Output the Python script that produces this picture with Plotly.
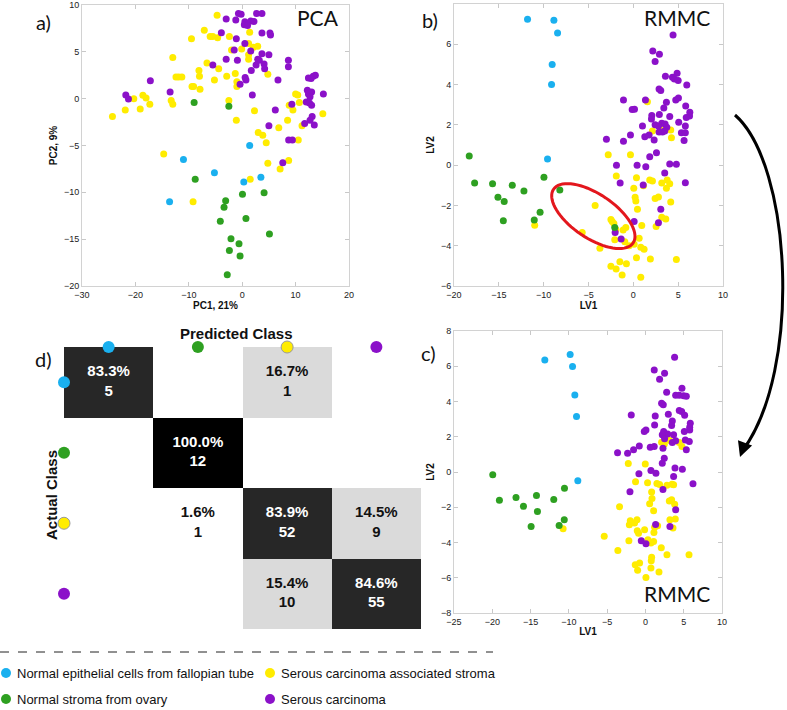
"""Ovarian tissue spectra: PCA vs RMMC score plots and the confusion matrix."""
import numpy as np
import plotly.graph_objects as go

W, H = 787, 710

BLUE = "#1ab0ef"
GREEN = "#2ea021"
YELLOW = "#ffec00"
PURPLE = "#8b11c9"

CLASSES = [
    "Normal epithelial cells from fallopian tube",
    "Normal stroma from ovary",
    "Serous carcinoma associated stroma",
    "Serous carcinoma",
]
COLORS = [BLUE, GREEN, YELLOW, PURPLE]

# ---- a) PCA scores (PC1, PC2) ----
pca_blue = [(1.4, -5.0), (-11.0, -6.5), (-5.2, -7.9), (0.3, -8.9), (3.5, -8.4), (-13.6, -11.0)]
pca_green = [(-9.0, -0.4), (-2.5, -0.8), (-8.8, -8.6), (0.05, -10.2), (4.1, -10.05), (-3.1, -10.9),
             (-3.4, -11.6), (-4.1, -13.1), (0.7, -12.8), (-2.1, -14.96), (5.1, -14.45), (-2.4, -16.2),
             (-0.6, -15.5), (-0.4, -16.8), (-2.8, -18.8)]
pca_yellow = [(-4.7, 8.9), (-7.1, 7.3), (-6.0, 6.65), (-5.5, 6.65), (-4.6, 6.5), (-9.5, 6.4), (-2.4, 6.65),
              (1.4, 7.1), (1.2, 5.9), (-2.0, 5.2), (-0.1, 5.3), (2.9, 5.6), (2.1, 5.5), (-13.0, 4.4),
              (-6.6, 3.8), (-4.4, 3.2), (-8.1, 3.0), (-8.0, 2.4), (-12.4, 2.3), (-11.9, 2.3), (-11.3, 2.3),
              (-5.2, 2.0), (-2.9, 2.4), (-1.3, 2.7), (1.2, 4.7), (1.2, 4.2), (-9.4, 1.3), (-9.1, 1.3),
              (-7.9, 1.0), (-1.0, 1.8), (-1.0, 1.3), (4.8, 2.6), (-20.3, 0.0), (-18.6, 0.37), (-18.0, 0.07),
              (-17.3, -0.6), (-19.1, -1.1), (-21.9, -1.2), (-24.3, -1.9), (-13.3, -0.2), (-13.0, -0.6),
              (-2.5, -0.2), (-1.1, -2.3), (2.3, -1.3), (3.0, -3.6), (3.85, -3.9), (4.5, -4.7), (6.85, -3.1),
              (8.5, -2.3), (8.8, -0.7), (9.5, -1.2), (10.0, 0.5), (10.4, 0.4), (10.7, -0.4), (11.2, -2.9),
              (10.5, -4.4), (15.1, -1.6), (-14.7, -5.9), (-9.2, -11.0), (1.5, -8.6), (4.8, -6.9),
              (7.1, -7.5), (8.7, -6.6)]
pca_purple = [(-0.7, 9.1), (-0.2, 9.0), (2.7, 9.1), (3.7, 9.1), (-3.0, 8.5), (-1.2, 8.4), (0.5, 8.2),
              (1.6, 8.3), (2.2, 8.25), (0.4, 7.9), (1.0, 7.8), (-3.9, 7.05), (3.7, 7.0), (5.2, 7.0),
              (5.3, 6.8), (-1.1, 6.4), (0.5, 5.9), (-1.5, 5.2), (1.6, 5.1), (3.7, 4.8), (5.0, 4.7),
              (-3.0, 4.2), (-0.9, 4.1), (2.9, 4.2), (3.2, 4.1), (4.1, 3.7), (8.65, 4.1), (8.65, 3.4),
              (-5.5, 3.6), (2.6, 3.6), (1.7, 3.0), (4.2, 3.2), (0.55, 2.25), (0.7, 2.0), (-0.4, 1.55),
              (6.7, 2.0), (12.4, 2.2), (13.3, 2.4), (13.7, 2.5), (12.9, 2.15), (-17.2, 1.9), (-21.8, 0.4),
              (-21.3, -0.03), (-13.5, 0.7), (1.9, 0.4), (6.2, -1.2), (9.3, -0.6), (12.2, 0.9), (12.4, 0.5),
              (13.0, 0.7), (12.7, 0.2), (12.0, -0.35), (12.6, -0.45), (13.0, -0.7), (15.2, 0.5),
              (13.1, -1.9), (12.7, -2.3), (11.7, -2.65), (13.5, -2.8), (5.0, -2.9), (8.7, -4.4),
              (9.4, -4.4), (7.6, -6.85)]

# ---- b) RMMC scores, calibration (LV1, LV2) ----
cal_blue = [(-11.8, 7.24), (-8.86, 7.19), (-8.45, 6.56), (-9.05, 5.0), (-9.12, 4.0), (-9.57, 0.3)]
cal_green = [(-18.3, 0.45), (-17.7, -0.89), (-15.7, -0.92), (-13.5, -1.0), (-9.97, -0.6), (-12.2, -1.28),
             (-8.2, -1.23), (-15.1, -1.6), (-14.4, -1.8), (-14.5, -2.76), (-11.05, -2.72),
             (-10.4, -2.34), (-2.07, -3.1)]
cal_yellow = [(-11.0, -2.99), (-4.26, -2.0), (-5.7, -3.34), (-2.5, -2.7), (-2.36, -2.8), (-2.17, -2.9),
              (-1.95, -3.2), (-0.84, -3.1), (-1.14, -3.22), (-2.07, -3.7), (-0.95, -3.8), (-0.47, -4.0),
              (0.09, -3.93), (0.65, -3.63), (0.94, -3.0), (0.83, -4.08), (1.2, -4.18), (0.35, -4.6),
              (1.9, -4.66), (4.8, -4.69), (-1.5, -4.8), (-0.77, -4.9), (-2.5, -5.02), (-1.92, -5.16),
              (-1.25, -5.45), (0.83, -5.57), (-3.73, -4.13), (-2.8, 0.52), (-0.32, 0.52), (-1.9, -0.54),
              (0.35, -0.62), (0.05, -1.15), (0.2, -1.6), (0.28, -1.78), (0.46, -2.19), (1.13, -1.02),
              (1.83, -0.74), (2.13, -0.79), (2.43, -1.66), (2.8, -1.58), (3.17, -0.89), (3.69, -1.15),
              (3.77, -0.74), (4.06, -0.92), (4.17, -1.83), (3.17, -2.59), (3.62, -2.67), (2.54, -3.04),
              (2.13, 1.7), (3.25, 1.74), (4.17, 1.74), (4.25, 1.36), (1.57, 3.15)]
cal_purple = [(4.43, 6.46), (2.17, 5.67), (2.91, 5.5), (2.43, 5.15), (4.88, 4.56), (4.36, 4.36),
              (3.58, 4.41), (4.58, 4.28), (5.0, 4.2), (5.96, 3.98), (2.87, 3.78), (3.06, 3.71),
              (-1.1, 3.23), (1.35, 3.23), (4.73, 3.23), (5.03, 3.33), (3.69, 3.12), (5.84, 2.94),
              (3.4, 2.84), (6.3, 2.62), (6.27, 2.44), (5.9, 2.37), (0.13, 2.77), (-0.13, 2.76),
              (2.06, 2.46), (2.02, 2.29), (2.9, 2.51), (4.06, 2.42), (5.06, 2.13), (3.17, 2.08),
              (2.43, 2.01), (2.8, 1.94), (3.54, 2.04), (3.73, 1.88), (1.02, 1.94), (5.36, 1.61),
              (5.8, 1.61), (5.66, 1.22), (2.87, 1.65), (3.25, 1.65), (3.5, 1.7), (1.28, 1.41),
              (1.76, 1.5), (-0.32, 1.5), (-1.1, 1.18), (2.32, 1.25), (-3.0, 1.28), (5.8, 1.94),
              (1.83, 0.42), (2.58, 0.62), (4.06, 0.06), (4.8, 0.04), (0.42, 0.0), (1.39, -0.08),
              (-1.88, 0.0), (-1.47, -0.89), (3.5, -0.39), (5.8, -0.87), (1.1, -0.99), (3.06, -2.19),
              (2.8, -2.86), (0.09, -2.8), (-2.03, -3.34), (-1.36, -3.67)]

# ---- c) RMMC scores, test (LV1, LV2) ----
test_blue = [(-13.14, 6.36), (-9.83, 6.66), (-9.52, 5.98), (-9.22, 4.37), (-9.0, 3.15), (-8.83, -0.5)]
test_green = [(-19.94, -0.16), (-19.07, -1.6), (-16.9, -1.44), (-15.93, -1.95), (-14.23, -1.33),
              (-14.1, -2.24), (-11.97, -1.56), (-10.57, -0.92), (-10.6, -2.71), (-14.93, -3.09),
              (-11.27, -3.03)]
test_yellow = [(-10.75, -3.22), (-5.38, -3.65), (-3.38, -1.97), (-3.6, -4.45), (-2.24, 0.48), (-0.02, 0.46),
               (-1.29, -0.56), (0.28, -0.61), (1.5, -0.65), (1.85, -0.71), (2.81, -0.75), (3.47, -0.69),
               (3.68, -0.73), (0.81, -1.14), (0.86, -1.5), (0.55, -1.8), (1.07, -2.2), (3.12, -1.65),
               (3.42, -1.58), (3.82, -1.83), (3.9, -2.67), (3.2, -2.71), (3.6, -3.18), (-1.98, -2.77),
               (-1.1, -2.71), (-1.42, -2.9), (-2.1, -2.99), (-0.11, -3.27), (-1.07, -3.33), (-0.9, -3.47),
               (1.2, -3.13), (1.11, -3.43), (1.59, -3.05), (-2.16, -3.9), (0.33, -3.84), (0.72, -4.03),
               (1.07, -3.94), (2.07, -4.3), (2.81, -4.69), (5.69, -4.69), (-1.33, -5.26), (-0.76, -5.17),
               (-1.02, -5.58), (0.81, -4.84), (0.76, -5.03), (0.72, -5.45), (1.77, -5.68), (0.07, -5.98),
               (2.11, 1.69), (2.46, 1.58), (2.9, 1.88), (3.16, 1.79), (4.42, 1.67), (4.77, 1.45)]
test_purple = [(3.81, 6.51), (1.15, 5.79), (2.5, 5.6), (1.85, 5.26), (2.77, 4.52), (4.77, 4.75),
               (3.95, 4.35), (4.42, 4.35), (4.99, 4.32), (5.34, 4.3), (2.11, 3.9), (2.33, 3.81),
               (4.42, 3.49), (4.73, 3.43), (5.12, 3.22), (2.99, 3.28), (-1.85, 3.24), (1.28, 3.18),
               (3.51, 2.9), (3.42, 2.64), (5.86, 2.77), (5.78, 2.54), (5.78, 2.39), (5.08, 2.3),
               (1.2, 2.67), (0.07, 2.39), (-0.15, 2.3), (2.38, 2.3), (2.9, 2.16), (3.68, 2.11),
               (2.2, 2.11), (2.5, 1.88), (5.21, 1.82), (5.73, 1.73), (3.95, 1.77), (3.51, 1.67),
               (0.63, 1.41), (1.15, 1.45), (-0.8, 1.48), (-1.55, 1.26), (-2.33, 1.07), (-3.64, 1.09),
               (2.29, 1.35), (5.34, 1.26), (2.46, 0.78), (2.2, 0.5), (3.86, 0.22), (4.82, 0.16),
               (3.68, -0.25), (0.72, 0.09), (1.37, -0.07), (-0.85, -0.1), (6.21, -0.67), (2.29, -0.99),
               (-2.02, -1.12), (3.95, -2.14), (1.33, -2.98), (3.2, -3.09), (-0.54, -3.9), (0.07, -4.07)]

# ---- d) confusion matrix (rows = actual, cols = predicted) ----
cm_percent = [[83.3, 0, 16.7, 0],
              [0, 100.0, 0, 0],
              [0, 1.6, 83.9, 14.5],
              [0, 0, 15.4, 84.6]]
cm_count = [[5, 0, 1, 0],
            [0, 12, 0, 0],
            [0, 1, 52, 9],
            [0, 0, 10, 55]]


def px(x):
    return x / W


def py(y):
    return 1 - y / H


def note(text, x, y, font, **kw):
    """Paper-placed text given in pixel coords from the top-left corner."""
    opts = dict(xanchor="center", yanchor="middle")
    opts.update(kw)
    fig.add_annotation(x=px(x), y=py(y), xref="paper", yref="paper", text=text,
                       showarrow=False, font=font, **opts)


fig = go.Figure()

# draw order: yellow underneath, then purple, green, blue
panels = [
    ("x", "y", [pca_yellow, pca_purple, pca_green, pca_blue]),
    ("x2", "y2", [cal_yellow, cal_purple, cal_green, cal_blue]),
    ("x3", "y3", [test_yellow, test_purple, test_green, test_blue]),
]
order_colors = [YELLOW, PURPLE, GREEN, BLUE]
for xa, ya, groups in panels:
    for pts, color in zip(groups, order_colors):
        fig.add_trace(go.Scatter(
            x=[p[0] for p in pts], y=[p[1] for p in pts], mode="markers",
            marker=dict(color=color, size=7, line=dict(width=0)),
            xaxis=xa, yaxis=ya, showlegend=False, hoverinfo="skip",
        ))

# confusion matrix heatmap
fig.add_trace(go.Heatmap(
    z=cm_percent, x=[0, 1, 2, 3], y=[0, 1, 2, 3],
    zmin=0, zmax=100, showscale=False, hoverinfo="skip",
    colorscale=[[0, "#ffffff"], [0.05, "#ffffff"], [0.1, "#dadada"], [0.25, "#dadada"],
                [0.75, "#282828"], [0.9, "#262626"], [0.99, "#262626"], [1, "#000000"]],
    xaxis="x4", yaxis="y4",
))
# cell labels: white on the dark cells, black on the light ones
cells = [(j, i, p, c) for i, (pr, cr) in enumerate(zip(cm_percent, cm_count))
         for j, (p, c) in enumerate(zip(pr, cr)) if c]
fig.add_trace(go.Scatter(
    x=[c[0] for c in cells], y=[c[1] for c in cells], mode="text",
    text=[f"<b>{p:.1f}%<br>{c}</b>" for _, _, p, c in cells],
    textfont=dict(family="Liberation Sans, Arial", size=15,
                  color=["white" if p > 50 else "#111" for _, _, p, _ in cells]),
    xaxis="x4", yaxis="y4", showlegend=False, hoverinfo="skip",
))
# class dots along top (predicted) and left (actual)
dot_line = dict(width=[0, 0, 1, 0], color="#9a9a9a")
fig.add_trace(go.Scatter(
    x=[0, 1, 2, 3], y=[-0.5] * 4, mode="markers", cliponaxis=False,
    marker=dict(color=COLORS, size=12, line=dot_line),
    xaxis="x4", yaxis="y4", showlegend=False, hoverinfo="skip",
))
fig.add_trace(go.Scatter(
    x=[-0.5] * 4, y=[0, 1, 2, 3], mode="markers", cliponaxis=False,
    marker=dict(color=COLORS, size=12, line=dot_line),
    xaxis="x4", yaxis="y4", showlegend=False, hoverinfo="skip",
))

axis_style = dict(
    showline=True, mirror="ticks", linecolor="#d2d2d2", linewidth=1, automargin=False,
    ticks="inside", ticklen=4, tickcolor="#c8c8c8", showgrid=False, zeroline=False,
    tickfont=dict(family="Liberation Sans, Arial", size=9, color="#222"),
    title_font=dict(family="Liberation Sans, Arial", size=10, color="#111", weight="bold"),
)

fig.update_layout(
    width=W, height=H, margin=dict(l=0, r=0, t=0, b=0, autoexpand=False),
    paper_bgcolor="white", plot_bgcolor="white",
    xaxis=dict(domain=[px(82), px(349)], range=[-30, 20], dtick=10, anchor="y",
               title=dict(text="PC1, 21%", standoff=2), **axis_style),
    yaxis=dict(domain=[py(286), py(5)], range=[-20, 10], dtick=5, anchor="x",
               title=dict(text="PC2, 9%", standoff=4), **axis_style),
    xaxis2=dict(domain=[px(454), px(723)], range=[-20, 10], dtick=5, anchor="y2",
                title=dict(text="LV1", standoff=2), **axis_style),
    yaxis2=dict(domain=[py(286), py(4)], range=[-6, 8], dtick=2, anchor="x2",
                title=dict(text="LV2", standoff=4), **axis_style),
    xaxis3=dict(domain=[px(454), px(722)], range=[-25, 10], dtick=5, anchor="y3",
                title=dict(text="LV1", standoff=2), **axis_style),
    yaxis3=dict(domain=[py(613), py(331)], range=[-8, 8], dtick=2, anchor="x3",
                title=dict(text="LV2", standoff=4), **axis_style),
    xaxis4=dict(domain=[px(64), px(421)], range=[-0.5, 3.5], visible=False, anchor="y4",
                automargin=False),
    yaxis4=dict(domain=[py(629), py(347)], range=[3.5, -0.5], visible=False, anchor="x4",
                automargin=False),
)

# red ellipse marking the overlap region in b)
cx, cy = -4.46, -2.53
a_px, b_px, th = 48, 22, np.radians(34)
t = np.linspace(0, 2 * np.pi, 73)
ex = a_px * np.cos(t) * np.cos(th) - b_px * np.sin(t) * np.sin(th)
ey = a_px * np.cos(t) * np.sin(th) + b_px * np.sin(t) * np.cos(th)
sx, sy = (723 - 454) / 30, (286 - 4) / 14
path = "M " + " L ".join(f"{cx + u / sx:.3f},{cy - v / sy:.3f}" for u, v in zip(ex, ey)) + " Z"
fig.add_shape(type="path", path=path, xref="x2", yref="y2", line=dict(color="#e3171d", width=3))

# curved arrow from b) to c)
fig.add_shape(
    type="path", xref="paper", yref="paper",
    path=f"M {px(735)},{py(115)} C {px(792)},{py(165)} {px(802)},{py(370)} {px(743)},{py(450)}",
    line=dict(color="black", width=3),
)
fig.add_annotation(x=px(740), y=py(457), xref="paper", yref="paper", text="", showarrow=True,
                   ax=5, ay=-14, arrowhead=2, arrowsize=1, arrowwidth=3, arrowcolor="black")

label_font = dict(family="Lato, Open Sans", size=20, color="#111")
for txt, x, y in [("a)", 43, 22), ("b)", 430, 20), ("c)", 428, 353), ("d)", 43, 359)]:
    note(txt, x, y, label_font)
for txt, x, y in [("PCA", 318, 18), ("RMMC", 677, 18), ("RMMC", 677, 593)]:
    note(txt, x, y, dict(family="Lato, Open Sans", size=21, color="#111"))

bold = dict(family="Liberation Sans, Arial", size=15, color="#111", weight="bold")
note("Predicted Class", 236, 333, bold)
note("Actual Class", 52, 495, bold, textangle=-90)

# legend below a dashed rule
fig.add_shape(type="line", xref="paper", yref="paper", x0=0, x1=px(493), y0=py(652), y1=py(652),
              line=dict(color="#222", width=1, dash="dash"))
leg_pos = [(6, 673), (6, 699), (270, 673), (270, 699)]
leg_font = dict(family="Liberation Sans, Arial", size=13, color="#111")
for name, color, (lx, ly) in zip(CLASSES, COLORS, leg_pos):
    fig.add_shape(type="circle", xref="paper", yref="paper",
                  x0=px(lx - 5), x1=px(lx + 5), y0=py(ly + 5), y1=py(ly - 5),
                  fillcolor=color, line=dict(width=0))
    note(name, lx + 9, ly, leg_font, xanchor="left")

# the page's default body margin would shift the 787x710 figure off the window
fig.write_html("out.html", config={"displayModeBar": False},
               post_script="document.body.style.margin = '0';")
